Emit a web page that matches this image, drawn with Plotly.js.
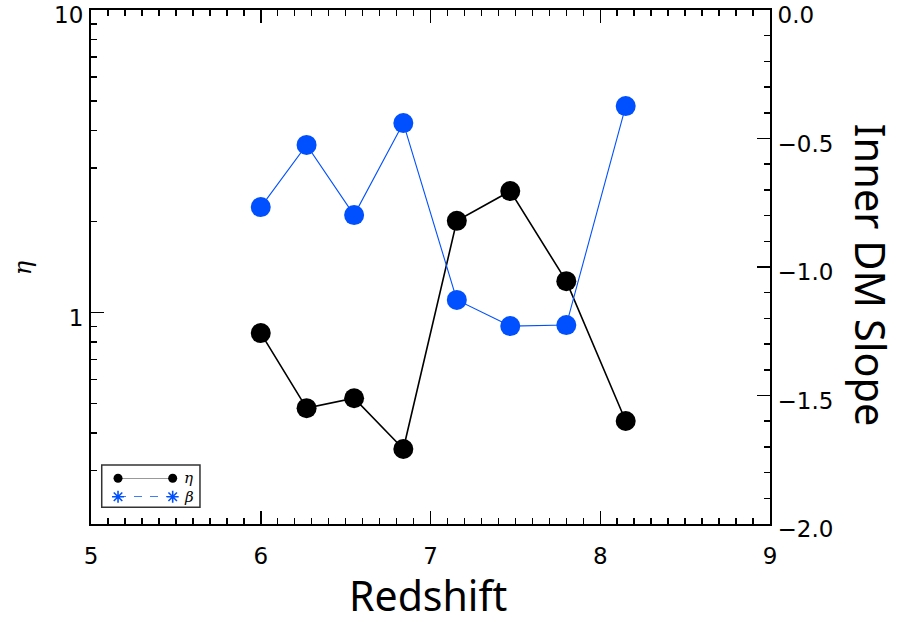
<!DOCTYPE html>
<html>
<head>
<meta charset="utf-8">
<script src="https://cdn.plot.ly/plotly-3.0.1.min.js"></script>
<style>
  html, body { margin: 0; padding: 0; background: #fff; }
  #chart { width: 902px; height: 622px; }
</style>
</head>
<body>
<div id="chart"></div>
<script>
// Redshift of each snapshot
const redshift = [6.0, 6.27, 6.55, 6.84, 7.155, 7.47, 7.80, 8.15];
// eta (left, log axis)
const eta = [0.855, 0.483, 0.521, 0.354, 2.01, 2.52, 1.27, 0.438];
// inner dark-matter slope beta (right axis)
const beta = [-0.767, -0.525, -0.798, -0.440, -1.128, -1.230, -1.226, -0.374];

// key sample positions (small inset axis, 0..1 in each direction)
const keyX = [0, 1];
const keyEtaY = [1, 1];
const keyBetaY = [0, 0];

const BLUE = '#0050ff';
const TITLE_FONT = 'Noto Sans, Open Sans, sans-serif';
const TICK_FONT = 'DejaVu Sans, sans-serif';

const traces = [
  {
    x: redshift, y: eta, xaxis: 'x', yaxis: 'y',
    mode: 'lines+markers', cliponaxis: false,
    line: { color: '#000', width: 1.6 },
    marker: { color: '#000', size: 20 }
  },
  {
    x: redshift, y: beta, xaxis: 'x', yaxis: 'y2',
    mode: 'lines+markers', cliponaxis: false,
    line: { color: BLUE, width: 1.1 },
    marker: { color: BLUE, size: 20 }
  },
  // key entries
  {
    x: keyX, y: keyEtaY, xaxis: 'x3', yaxis: 'y3',
    mode: 'lines+markers', cliponaxis: false,
    line: { color: '#777', width: 1.5 },
    marker: { color: '#000', size: 9 }
  },
  {
    x: keyX, y: keyBetaY, xaxis: 'x3', yaxis: 'y3',
    mode: 'lines+markers', cliponaxis: false,
    line: { color: BLUE, width: 1.2, dash: '8px,8px' },
    marker: { symbol: 'asterisk-open', size: 10, line: { color: BLUE, width: 1.6 } }
  }
];

const tickFont = { family: TICK_FONT, size: 23, color: '#000' };

const layout = {
  width: 902, height: 622,
  margin: { l: 91, r: 132, t: 10, b: 98 },
  paper_bgcolor: '#fff', plot_bgcolor: '#fff',
  showlegend: false,
  xaxis: {
    range: [5, 9], dtick: 1, tick0: 5,
    showgrid: false, zeroline: false,
    showline: true, linecolor: '#000', linewidth: 2, mirror: 'ticks',
    ticks: 'inside', ticklen: 13, tickwidth: 1.5, tickcolor: '#000',
    minor: { ticks: 'inside', dtick: 0.1, ticklen: 6, tickwidth: 1.5, tickcolor: '#000', showgrid: false },
    tickfont: tickFont, ticklabelstandoff: 10, ticklabeloverflow: 'allow'
  },
  yaxis: {
    type: 'log', range: [Math.log10(0.2), 1],
    tickvals: [1, 10], ticktext: ['1', '10'],
    showgrid: false, zeroline: false,
    showline: true, linecolor: '#000', linewidth: 2,
    ticks: 'inside', ticklen: 13, tickwidth: 1.5, tickcolor: '#000',
    minor: {
      ticks: 'inside', ticklen: 6, tickwidth: 1.5, tickcolor: '#000', showgrid: false,
      tickvals: [0.2, 0.3, 0.4, 0.5, 0.6, 0.7, 0.8, 0.9, 2, 3, 4, 5, 6, 7, 8, 9]
    },
    tickfont: tickFont, ticklabelstandoff: 1, ticklabelshift: 5, ticklabeloverflow: 'allow'
  },
  yaxis2: {
    overlaying: 'y', side: 'right', anchor: 'x',
    range: [-2, 0], dtick: 0.5, tick0: 0, tickformat: '.1f',
    showgrid: false, zeroline: false,
    showline: true, linecolor: '#000', linewidth: 2,
    ticks: 'inside', ticklen: 13, tickwidth: 1.5, tickcolor: '#000',
    minor: { ticks: 'inside', dtick: 0.1, ticklen: 6, tickwidth: 1.5, tickcolor: '#000', showgrid: false },
    tickfont: tickFont, ticklabelstandoff: 1, ticklabelshift: 5, ticklabeloverflow: 'allow'
  },
  xaxis3: {
    domain: [0.0398, 0.1203], range: [0, 1], anchor: 'y3',
    visible: false, fixedrange: true
  },
  yaxis3: {
    domain: [0.0531, 0.0889], range: [0, 1], anchor: 'x3',
    visible: false, fixedrange: true
  },
  shapes: [
    { type: 'rect', xref: 'paper', yref: 'paper',
      x0: 0.0158, x1: 0.1605, y0: 0.0325, y1: 0.1148,
      line: { color: '#333', width: 1.5 }, fillcolor: 'rgba(0,0,0,0)' }
  ],
  annotations: [
    { text: 'Redshift', xref: 'paper', yref: 'paper', x: 0.4963, y: -0.1381,
      showarrow: false, xanchor: 'center', yanchor: 'middle',
      font: { family: TITLE_FONT, size: 41, color: '#000' } },
    { text: 'Inner DM Slope', xref: 'paper', yref: 'paper', x: 1.148, y: 0.4844,
      textangle: 90, showarrow: false, xanchor: 'center', yanchor: 'middle',
      font: { family: TITLE_FONT, size: 41.5, color: '#000' } },
    { text: '<i>η</i>', xref: 'paper', yref: 'paper', x: -0.1, y: 0.498,
      textangle: -90, showarrow: false, xanchor: 'center', yanchor: 'middle',
      font: { family: 'DejaVu Serif, serif', size: 24, color: '#000' } },
    { text: '<i>η</i>', xref: 'x3', yref: 'y3', x: 1, y: 1, xshift: 9,
      xanchor: 'left', yanchor: 'middle', showarrow: false,
      font: { family: 'DejaVu Serif, serif', size: 15, color: '#000' } },
    { text: '<i>β</i>', xref: 'x3', yref: 'y3', x: 1, y: 0, xshift: 9,
      xanchor: 'left', yanchor: 'middle', showarrow: false,
      font: { family: 'DejaVu Serif, serif', size: 15, color: '#000' } }
  ]
};

Plotly.newPlot('chart', traces, layout, { staticPlot: true, displayModeBar: false });
</script>
</body>
</html>
